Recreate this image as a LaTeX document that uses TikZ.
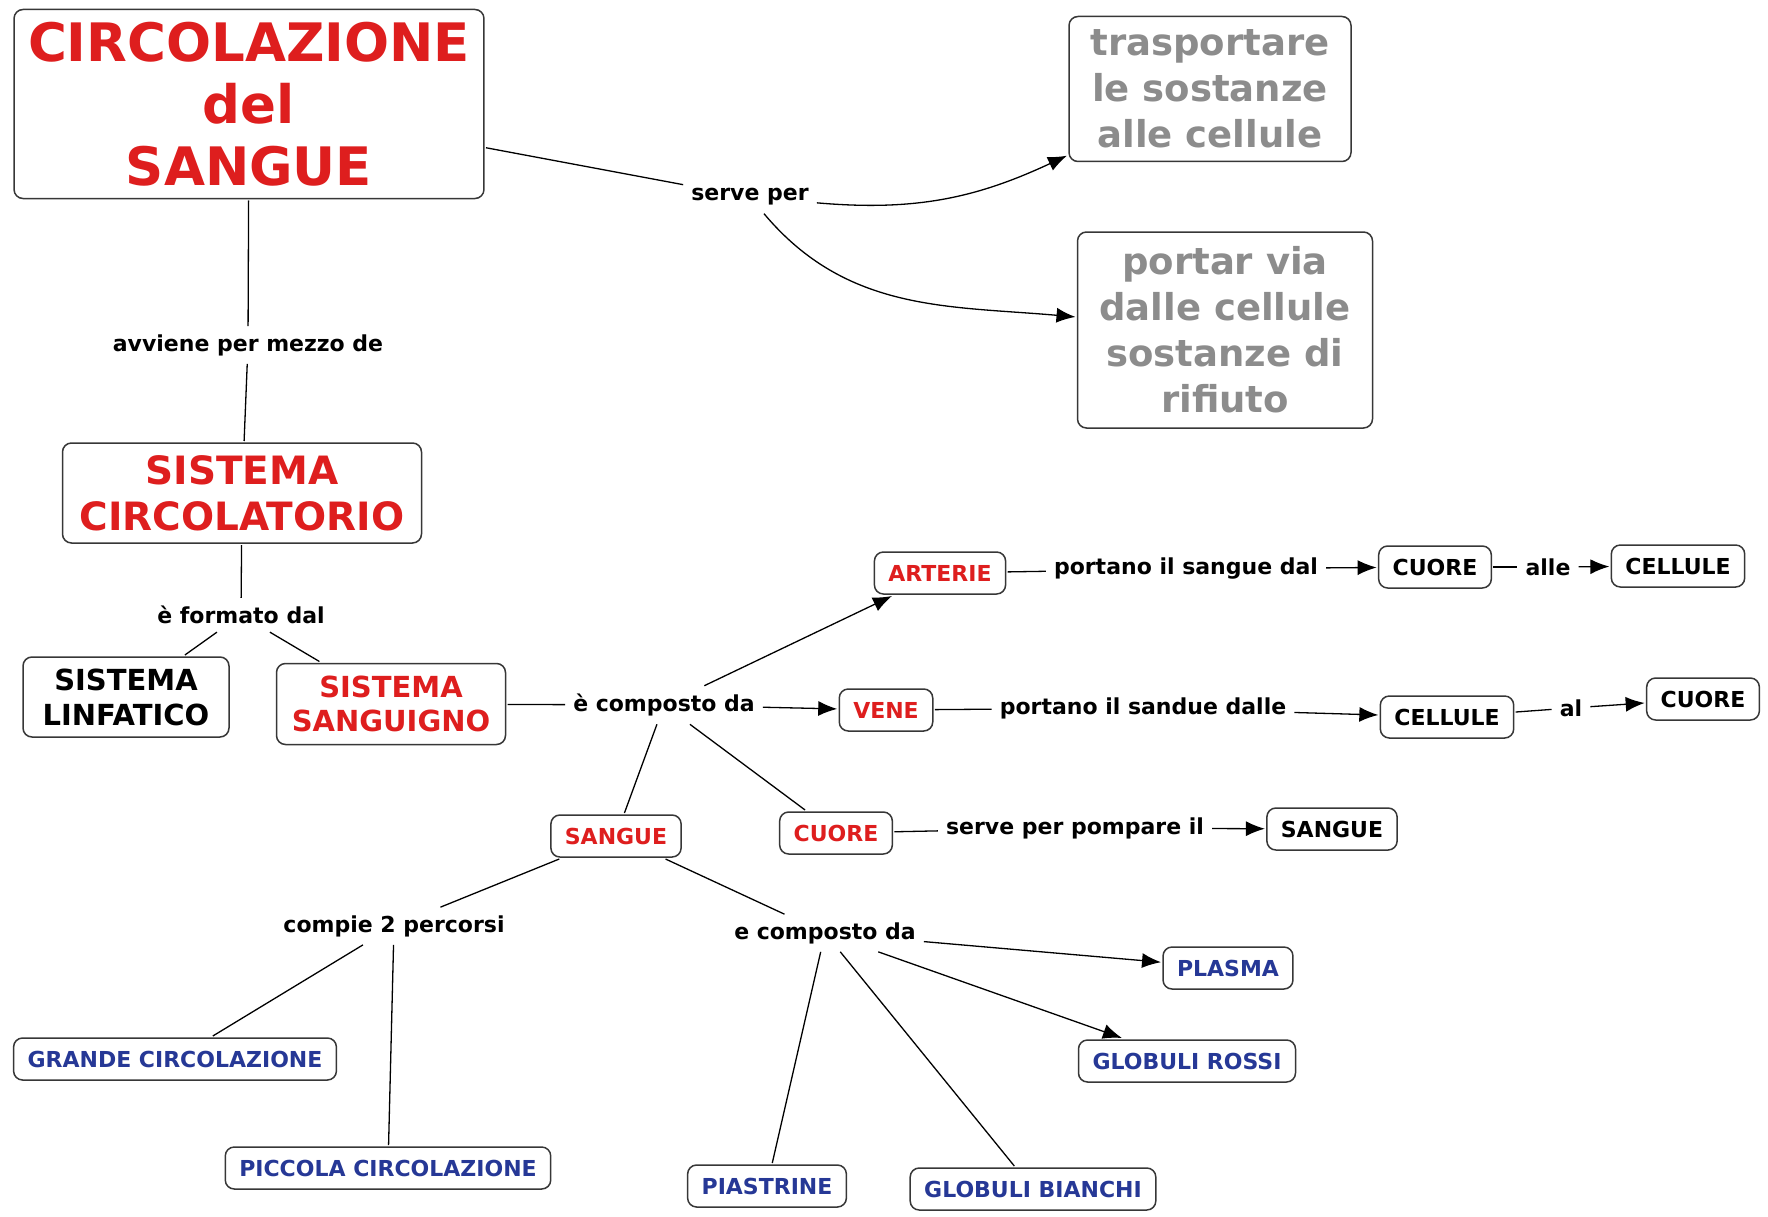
\documentclass[tikz,border=0pt]{standalone}
\usepackage{fontspec}
\setmainfont{DejaVu Sans}
\usetikzlibrary{arrows.meta}
\definecolor{rosso}{RGB}{222,30,30}
\definecolor{grigio}{RGB}{140,140,140}
\definecolor{blu}{RGB}{38,56,150}
\definecolor{bordo}{RGB}{55,55,55}

\begin{document}
\begin{tikzpicture}[x=1pt,y=-1pt,
  box/.style={draw=bordo,line width=1.5pt,rounded corners=9pt,fill=white,align=center,inner xsep=14pt,inner ysep=6pt,minimum height=42pt,outer sep=2pt,font=\bfseries\fontsize{22}{27}\selectfont},
  link/.style={inner sep=8pt,font=\bfseries\fontsize{22}{27}\selectfont},
  con/.style={line width=1.3pt},
  arr/.style={con,-{Latex[length=19pt,width=15pt]}}]
\useasboundingbox (0,0) rectangle (1768,1217);
\node[box,text=rosso,font=\bfseries\fontsize{53}{62}\selectfont,minimum width=468pt,minimum height=189pt] (titolo) at (249,104) {CIRCOLAZIONE\\del\\SANGUE};
\node[box,text=grigio,font=\bfseries\fontsize{37}{46}\selectfont,minimum width=282pt,minimum height=145pt] (trasp) at (1210,89) {trasportare\\le sostanze\\alle cellule};
\node[box,text=grigio,font=\bfseries\fontsize{37}{46}\selectfont,minimum width=295pt,minimum height=196pt] (portar) at (1225,330) {portar via\\dalle cellule\\sostanze di\\rifiuto};
\node[link] (serve) at (750,197) {serve per};
\node[link] (avviene) at (248,345) {avviene per mezzo de};
\node[box,text=rosso,font=\bfseries\fontsize{39}{46}\selectfont,minimum width=359pt,minimum height=100pt] (circ) at (242,493) {SISTEMA\\CIRCOLATORIO};
\node[link] (formato) at (241,615) {è formato dal};
\node[box,font=\bfseries\fontsize{29}{35}\selectfont,minimum width=206pt,minimum height=80pt] (linf) at (126,697) {SISTEMA\\LINFATICO};
\node[box,text=rosso,font=\bfseries\fontsize{29}{34}\selectfont,minimum width=229pt,minimum height=81pt] (sang) at (391,704) {SISTEMA\\SANGUIGNO};
\node[link] (comp) at (664,705) {è composto da};
\node[box,text=rosso] (arterie) at (940,573) {ARTERIE};
\node[link] (port1) at (1186,569) {portano il sangue dal};
\node[box] (cuoreA) at (1435,567) {CUORE};
\node[link] (alle) at (1548,567) {alle};
\node[box] (celluleA) at (1678,566) {CELLULE};
\node[box,text=rosso] (vene) at (886,710) {VENE};
\node[link] (port2) at (1143,708) {portano il sandue dalle};
\node[box] (celluleB) at (1447,717) {CELLULE};
\node[link] (al) at (1571,708) {al};
\node[box] (cuoreB) at (1703,699) {CUORE};
\node[box,text=rosso] (sangue) at (616,836) {SANGUE};
\node[box,text=rosso] (cuore) at (836,833) {CUORE};
\node[link] (pompa) at (1075,828) {serve per pompare il};
\node[box] (sangueB) at (1332,829) {SANGUE};
\node[link] (compie) at (394,926) {compie 2 percorsi};
\node[box,text=blu] (grande) at (175,1059) {GRANDE CIRCOLAZIONE};
\node[box,text=blu] (piccola) at (388,1168) {PICCOLA CIRCOLAZIONE};
\node[link] (ecomp) at (825,933) {e composto da};
\node[box,text=blu] (plasma) at (1228,968) {PLASMA};
\node[box,text=blu] (rossi) at (1187,1061) {GLOBULI ROSSI};
\node[box,text=blu] (piastrine) at (767,1186) {PIASTRINE};
\node[box,text=blu] (bianchi) at (1033,1189) {GLOBULI BIANCHI};

\draw[con] (titolo) -- (serve);
\draw[arr] (serve) to[out=-5,in=205] (trasp);
\draw[arr] (serve) to[out=-50,in=175] (portar);
\draw[con] (titolo) -- (avviene);
\draw[con] (avviene) -- (circ);
\draw[con] (circ) -- (formato);
\draw[con] (formato) -- (linf);
\draw[con] (formato) -- (sang);
\draw[con] (sang) -- (comp);
\draw[arr] (comp) -- (arterie);
\draw[arr] (comp) -- (vene);
\draw[con] (comp) -- (sangue);
\draw[con] (comp) -- (cuore);
\draw[con] (arterie) -- (port1);
\draw[arr] (port1) -- (cuoreA);
\draw[con] (cuoreA) -- (alle);
\draw[arr] (alle) -- (celluleA);
\draw[con] (vene) -- (port2);
\draw[arr] (port2) -- (celluleB);
\draw[con] (celluleB) -- (al);
\draw[arr] (al) -- (cuoreB);
\draw[con] (cuore) -- (pompa);
\draw[arr] (pompa) -- (sangueB);
\draw[con] (sangue) -- (compie);
\draw[con] (compie) -- (grande);
\draw[con] (compie) -- (piccola);
\draw[con] (sangue) -- (ecomp);
\draw[arr] (ecomp) -- (plasma);
\draw[arr] (ecomp) -- (rossi);
\draw[con] (ecomp) -- (piastrine);
\draw[con] (ecomp) -- (bianchi);
\end{tikzpicture}
\end{document}
